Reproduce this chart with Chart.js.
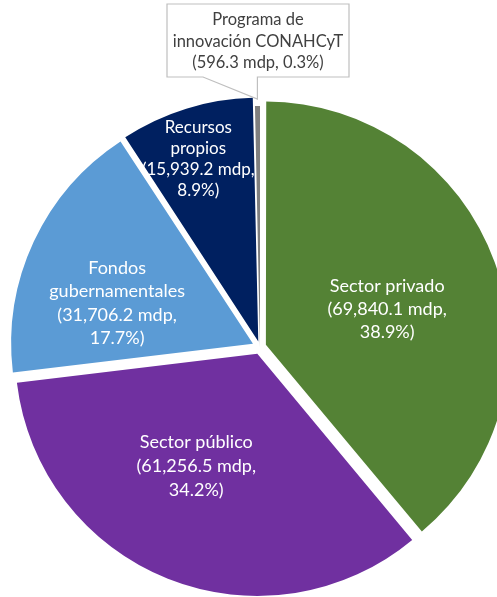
<!DOCTYPE html>
<html>
<head>
<meta charset="utf-8">
<script src="https://cdn.jsdelivr.net/npm/chart.js@4/dist/chart.umd.min.js"></script>
<style>
  html, body { margin: 0; padding: 0; background: #ffffff; }
  #wrap { width: 497px; height: 597px; }
</style>
</head>
<body>
<div id="wrap"><canvas id="pie" width="497" height="597"></canvas></div>
<script>
// Data (mdp = millones de pesos)
const categories = ['Sector privado', 'Sector público', 'Fondos gubernamentales', 'Recursos propios', 'Programa de innovación CONAHCyT'];
const amounts = [69840.1, 61256.5, 31706.2, 15939.2, 596.3];
const percents = [38.9, 34.2, 17.7, 8.9, 0.3];

const colors = ['#548235', '#7030A0', '#5B9BD5', '#002060', '#7F7F7F'];
const FONT = '"Lato", "Liberation Sans", sans-serif';

function fmt(v) {
    return v.toLocaleString('en-US', { minimumFractionDigits: 1, maximumFractionDigits: 1 });
}

// text lines for each slice label
function labelLines(i) {
    const amt = '(' + fmt(amounts[i]) + ' mdp,';
    const pct = percents[i] + '%)';
    if (i === 2) return ['Fondos', 'gubernamentales', amt, pct];
    if (i === 3) return ['Recursos', 'propios', amt, pct];
    if (i === 4) return ['Programa de', 'innovación CONAHCyT', amt + ' ' + pct];
    return [categories[i], amt, pct];
}

// label placement inside slices: radius fraction, small angle nudge (deg), line height
const labelPlace = [
    { r: 0.55, da: 3.5, lh: 23 },
    { r: 0.56, da: 6.5, lh: 24 },
    { r: 0.62, da: -8, lh: 23.5 },
    { r: 0.82, da: -1, lh: 21 }
];

const sliceLabels = {
    id: 'sliceLabels',
    afterDatasetsDraw(chart) {
        const ctx = chart.ctx;
        const meta = chart.getDatasetMeta(0);
        ctx.save();
        ctx.textAlign = 'center';
        ctx.textBaseline = 'middle';
        meta.data.forEach((arc, i) => {
            if (i > 3) return;
            const p = labelPlace[i];
            ctx.font = (i === 3 ? '17px ' : '18px ') + FONT;
            const mid = (arc.startAngle + arc.endAngle) / 2 + p.da * Math.PI / 180;
            const cx = arc.x + Math.cos(mid) * arc.outerRadius * p.r;
            const cy = arc.y + Math.sin(mid) * arc.outerRadius * p.r;
            const lines = labelLines(i);
            ctx.fillStyle = '#ffffff';
            lines.forEach((t, k) => {
                ctx.fillText(t, cx, cy + (k - (lines.length - 1) / 2) * p.lh);
            });
        });

        // callout for the tiny slice
        const arc = meta.data[4];
        const mid = (arc.startAngle + arc.endAngle) / 2;
        const tipX = arc.x + Math.cos(mid) * (arc.outerRadius + 7);
        const tipY = arc.y + Math.sin(mid) * (arc.outerRadius + 7);
        const box = { l: 167, t: 4, r: 349, b: 77 };
        ctx.strokeStyle = '#BFBFBF';
        ctx.lineWidth = 1.2;
        ctx.fillStyle = '#ffffff';
        ctx.beginPath();
        ctx.moveTo(box.l, box.t);
        ctx.lineTo(box.r, box.t);
        ctx.lineTo(box.r, box.b);
        ctx.lineTo(tipX, box.b);
        ctx.lineTo(tipX, tipY);
        ctx.lineTo(203, box.b);
        ctx.lineTo(box.l, box.b);
        ctx.closePath();
        ctx.fill();
        ctx.stroke();
        ctx.font = '16.5px ' + FONT;
        ctx.fillStyle = '#404040';
        const lines = labelLines(4);
        const bx = (box.l + box.r) / 2;
        lines.forEach((t, k) => {
            ctx.fillText(t, bx, 20 + k * 21.5);
        });
        ctx.restore();
    }
};

new Chart(document.getElementById('pie'), {
    type: 'pie',
    data: {
        labels: categories,
        datasets: [{
            data: amounts,
            backgroundColor: colors,
            borderWidth: 0,
            offset: [25, 29, 31, 23, 0],
            hoverOffset: 0,
            radius: 241,
            clip: false
        }]
    },
    options: {
        responsive: false,
        animation: false,
        layout: { padding: { top: 97, left: 23, right: 0, bottom: 0 } },
        plugins: {
            legend: { display: false },
            tooltip: { enabled: false }
        }
    },
    plugins: [sliceLabels]
});
</script>
</body>
</html>
